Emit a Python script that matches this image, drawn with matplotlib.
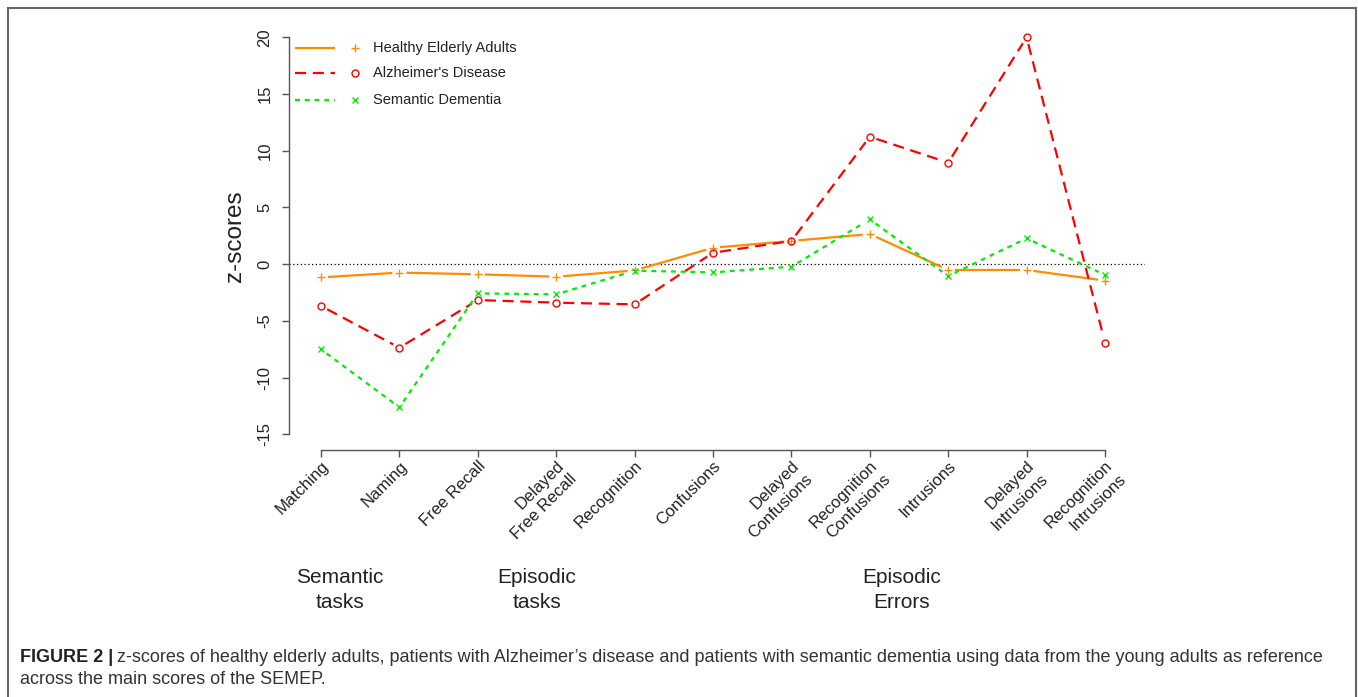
import matplotlib
matplotlib.use("Agg")
import matplotlib.pyplot as plt
import matplotlib.transforms as mtransforms
from matplotlib.patches import Rectangle
from matplotlib.lines import Line2D
import numpy as np

# ---------------- data ----------------
categories = ["Matching", "Naming", "Free Recall", "Delayed\nFree Recall", "Recognition",
              "Confusions", "Delayed\nConfusions", "Recognition\nConfusions", "Intrusions",
              "Delayed\nIntrusions", "Recognition\nIntrusions"]
healthy = [-1.16, -0.74, -0.89, -1.10, -0.55, 1.45, 2.05, 2.66, -0.51, -0.51, -1.45]
alzheimer = [-3.68, -7.36, -3.16, -3.39, -3.54, 1.01, 2.05, 11.24, 8.95, 20.0, -6.92]
semantic = [-7.50, -12.62, -2.57, -2.66, -0.57, -0.72, -0.22, 3.95, -1.04, 2.28, -0.95]
series_names = ["Healthy Elderly Adults", "Alzheimer's Disease", "Semantic Dementia"]
y_ticks = [-15, -10, -5, 0, 5, 10, 15, 20]
group_labels = ["Semantic\ntasks", "Episodic\ntasks", "Episodic\nErrors"]
group_positions = [1.24, 3.755, 8.41]
caption_bold = "FIGURE 2 |"
caption_line1 = ("z-scores of healthy elderly adults, patients with Alzheimer\u2019s disease and patients "
                 "with semantic dementia using data from the young adults as reference")
caption_line2 = "across the main scores of the SEMEP."

# ---------------- styling ----------------
plt.rcParams["font.family"] = ["Liberation Sans", "DejaVu Sans"]
ORANGE, RED, GREEN = "#FF8C00", "#FF0000", "#00EE00"
AXCOL = "#555555"
TXT = "#222222"

W, H = 1358, 697
fig = plt.figure(figsize=(W / 100, H / 100), dpi=100)
fig.patch.set_facecolor("white")

def fx(px):
    return px / W

def fy(py):
    return 1 - py / H

ax_l, ax_r, ax_t, ax_b = 289, 1145, 30, 450
ax = fig.add_axes([fx(ax_l), fy(ax_b), (ax_r - ax_l) / W, (ax_b - ax_t) / H])
x = np.arange(1, len(categories) + 1)
px_per_x = 78.4
ax.set_xlim(1 - (321 - ax_l) / px_per_x, 11 + (ax_r - 1105) / px_per_x)
px_per_y = 11.343
ax.set_ylim((264.2 - ax_b) / px_per_y, (264.2 - ax_t) / px_per_y)

for s in ["top", "right"]:
    ax.spines[s].set_visible(False)
ax.spines["left"].set_bounds(-15, 20)
ax.spines["bottom"].set_bounds(1, 11)
for s in ["left", "bottom"]:
    ax.spines[s].set_color(AXCOL)
    ax.spines[s].set_linewidth(1.0)

ax.set_yticks(y_ticks)
ax.set_yticklabels([str(t) for t in y_ticks], rotation=90, va="center", fontsize=12, color=TXT)
ax.set_xticks(x)
ax.set_xticklabels(categories, rotation=45, ha="right", va="top", rotation_mode="anchor",
                   fontsize=12, color=TXT, linespacing=1.3)
ax.tick_params(axis="both", direction="out", length=5, width=1, color=AXCOL)
ax.tick_params(axis="y", pad=7)
ax.tick_params(axis="x", pad=1)

ax.axhline(0, color="black", lw=0.9, linestyle=(0, (1, 2)))

ax.text(-0.0625, 0.5095, "z-scores", rotation=90, ha="center", va="center", fontsize=17.5,
        color=TXT, transform=ax.transAxes)

GAP = 7  # px gap around points (R type="b")

def draw_series(yv, color, ls, marker, ms):
    pts = ax.transData.transform(np.column_stack([x, yv]))
    inv = ax.transData.inverted()
    for p0, p1 in zip(pts[:-1], pts[1:]):
        d = p1 - p0
        L = np.hypot(*d)
        if L <= 2 * GAP:
            continue
        u = d / L
        a = inv.transform(p0 + u * GAP)
        b = inv.transform(p1 - u * GAP)
        ax.plot([a[0], b[0]], [a[1], b[1]], color=color, lw=1.6, linestyle=ls,
                solid_capstyle="butt", dash_capstyle="butt")
    ax.plot(x, yv, linestyle="none", marker=marker, ms=ms, mew=1.0, color=color,
            mfc="none", mec=color)

styles = [
    (healthy, ORANGE, "-", "+", 6),
    (alzheimer, RED, (0, (5, 3)), "o", 5),
    (semantic, GREEN, (0, (2.2, 2.2)), "x", 5),
]
for yv, c, ls, m, ms in styles:
    draw_series(yv, c, ls, m, ms)

# legend (no box, line then symbol)
leg_rows = [47.7, 73.3, 100]
for (yv, c, ls, m, ms), name, yy in zip(styles, series_names, leg_rows):
    fig.add_artist(Line2D([fx(295), fx(335)], [fy(yy), fy(yy)], transform=fig.transFigure,
                          color=c, lw=1.6, linestyle=ls, solid_capstyle="butt", dash_capstyle="butt"))
    fig.add_artist(Line2D([fx(355)], [fy(yy)], transform=fig.transFigure, linestyle="none",
                          marker=m, ms=ms, mew=1.0, color=c, mfc="none", mec=c))
    fig.text(fx(373), fy(yy), name, va="center", ha="left", fontsize=10.5, color=TXT)

# group labels
trans = mtransforms.blended_transform_factory(ax.transData, ax.transAxes)
for lab, pos in zip(group_labels, group_positions):
    ax.text(pos, (ax_b - 590) / (ax_b - ax_t), lab, transform=trans, ha="center", va="center",
            fontsize=15, color=TXT, linespacing=1.4, clip_on=False)

# caption
r = fig.canvas.get_renderer()
cap_fs = 11.5
cap_y1, cap_y2 = 657, 679
t1 = fig.text(fx(20), fy(cap_y1), caption_bold, weight="bold", fontsize=cap_fs, va="center",
              ha="left", color="#222222")
bb = t1.get_window_extent(r)
t2 = fig.text((bb.x1 + 4) / W, fy(cap_y1), caption_line1, fontsize=cap_fs, va="center",
              ha="left", color="#333333")
bb2 = t2.get_window_extent(r)
scale = (1326 - 20) / (bb2.x1 - 20 * 1.0)
new_fs = cap_fs * scale
t1.set_fontsize(new_fs)
bb = t1.get_window_extent(r)
t2.set_fontsize(new_fs)
t2.set_x((bb.x1 + 4) / W)
fig.text(fx(20), fy(cap_y2), caption_line2, fontsize=new_fs, va="center", ha="left", color="#333333")

# frame
fig.add_artist(Rectangle((fx(8), fy(710)), (1356 - 8) / W, (710 - 8) / H, transform=fig.transFigure,
                         fill=False, edgecolor="#666666", lw=1.5, clip_on=False))

fig.savefig("out.png", dpi=100, facecolor="white")
